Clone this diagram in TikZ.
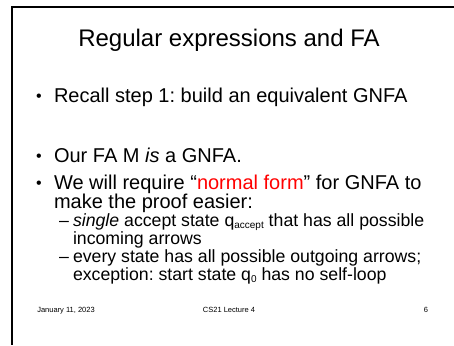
\documentclass[tikz,border=0pt]{standalone}
\usepackage{fontspec}
\setmainfont{Liberation Sans}
\definecolor{hot}{RGB}{255,0,0}
\newcommand{\lowsub}[1]{\raisebox{-0.25ex}{\fontsize{10}{10}\selectfont #1}}
\tikzset{
  slidetext/.style={anchor=base west, inner sep=0pt, outer sep=0pt},
  titletext/.style={anchor=base, inner sep=0pt, font=\fontsize{24}{27}\selectfont},
  lvlone/.style={slidetext, font=\fontsize{20}{22}\selectfont},
  lvltwo/.style={slidetext, font=\fontsize{17.7}{19}\selectfont},
  bulletmark/.style={slidetext, font=\fontsize{16}{16}\selectfont},
  footertext/.style={anchor=base, inner sep=0pt, font=\fontsize{7.5}{8}\selectfont},
  framerule/.style={line width=2.6pt, black}
}
\frenchspacing
\begin{document}
\begin{tikzpicture}[x=1pt,y=-1pt]
  \useasboundingbox (0,0) rectangle (454,345);
  % slide frame: top and left rules
  \coordinate (frameTR) at (454,7);
  \coordinate (frameTL) at (12,7);
  \coordinate (frameBL) at (12,345);
  \draw[framerule] (frameTR) -- (frameTL) -- (frameBL);

  % title
  \node[titletext] (title) at (229,46) {Regular expressions and FA};

  % first-level bullets
  \node[bulletmark] (b1) at (36,101) {•};
  \node[lvlone] (t1) at (54,102) {Recall step 1: build an equivalent GNFA};

  \node[bulletmark] (b2) at (36,161) {•};
  \node[lvlone] (t2) at (54,162) {Our FA M \textit{is} a GNFA.};

  \node[bulletmark] (b3) at (36,188) {•};
  \node[lvlone] (t3a) at (54,189) {We will require “\textcolor{hot}{normal form}” for GNFA to};
  \node[lvlone] (t3b) at (54,208) {make the proof easier:};

  % second-level items
  \node[lvltwo] (d1) at (59,226) {–};
  \node[lvltwo] (s1a) at (73,226) {\textit{single} accept state q\lowsub{accept} that has all possible};
  \node[lvltwo] (s1b) at (73,244) {incoming arrows};

  \node[lvltwo] (d2) at (59,262) {–};
  \node[lvltwo] (s2a) at (73,262) {every state has all possible outgoing arrows;};
  \node[lvltwo] (s2b) at (73,280) {exception: start state q\lowsub{0} has no self-loop};

  % footer
  \node[footertext] (date) at (66,312) {January 11, 2023};
  \node[footertext] (course) at (229,312) {CS21 Lecture 4};
  \node[footertext] (page) at (426,312) {6};
\end{tikzpicture}
\end{document}
